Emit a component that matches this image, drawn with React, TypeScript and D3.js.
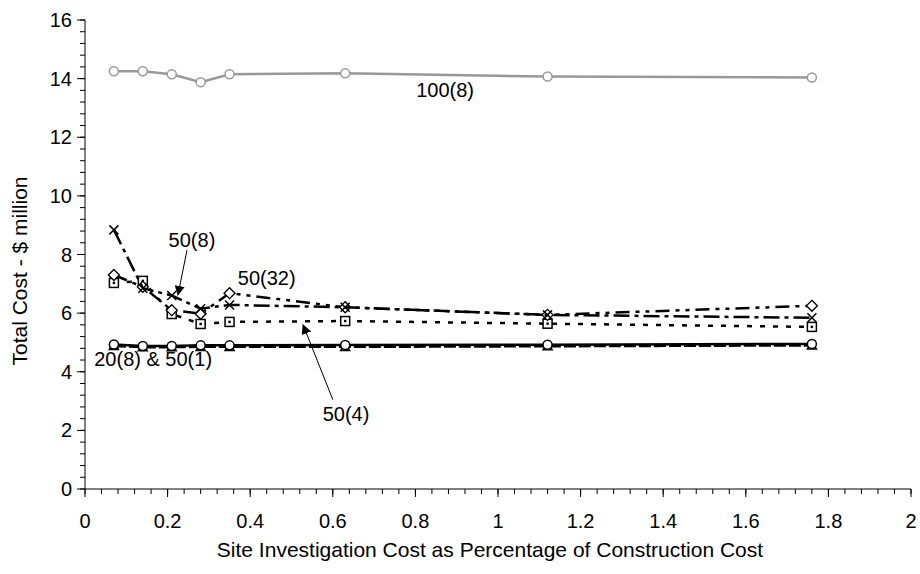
import * as d3 from "d3";
import React from "react";

// x: site investigation cost (% of construction cost)
const xValues = [0.07, 0.14, 0.21, 0.28, 0.35, 0.63, 1.12, 1.76];

// total cost ($ million) per case
const cost100_8 = [14.25, 14.25, 14.15, 13.88, 14.15, 14.18, 14.07, 14.04];
const cost50_32 = [7.3, 6.9, 6.1, 5.98, 6.68, 6.2, 5.94, 6.25];
const cost50_8 = [8.84, 6.85, 6.6, 6.15, 6.28, 6.2, 5.94, 5.84];
const cost50_4 = [7.03, 7.1, 5.97, 5.63, 5.7, 5.73, 5.64, 5.53];
const cost20_8 = [4.93, 4.88, 4.88, 4.9, 4.9, 4.91, 4.92, 4.95];
const cost50_1 = [4.88, 4.84, 4.84, 4.85, 4.85, 4.85, 4.87, 4.9];

const xTicks = [0, 0.2, 0.4, 0.6, 0.8, 1, 1.2, 1.4, 1.6, 1.8, 2];
const yTicks = [0, 2, 4, 6, 8, 10, 12, 14, 16];

const FONT = "'Liberation Sans', Arial, Helvetica, sans-serif";

const x = d3.scaleLinear().domain([0, 2]).range([85, 911]);
const y = d3.scaleLinear().domain([0, 16]).range([489, 20]);

const series = [
  { name: "50(1)", values: cost50_1, color: "#000", width: 2.5, dash: "12,3", marker: "triangle" },
  { name: "20(8)", values: cost20_8, color: "#000", width: 2.5, dash: null, marker: "circle" },
  { name: "50(4)", values: cost50_4, color: "#000", width: 2.5, dash: "5,8", marker: "square" },
  { name: "50(32)", values: cost50_32, color: "#000", width: 2.5, dash: "14,6,4,6,4,6", marker: "diamond" },
  { name: "50(8)", values: cost50_8, color: "#000", width: 2.5, dash: "16,5,4,5", marker: "cross" },
  { name: "100(8)", values: cost100_8, color: "#999", width: 2.5, dash: null, marker: "circle" },
];

// annotations in data units
const labels = [
  { text: "100(8)", x: 0.872, y: 13.6 },
  { text: "50(8)", x: 0.259, y: 8.5 },
  { text: "50(32)", x: 0.44, y: 7.2 },
  { text: "50(4)", x: 0.632, y: 2.55 },
  { text: "20(8) & 50(1)", x: 0.165, y: 4.42 },
];
const arrows = [
  { from: [0.247, 8.15], to: [0.225, 6.62] },
  { from: [0.6, 3.05], to: [0.528, 5.6] },
];

const line = d3
  .line<number>()
  .x((_, i) => x(xValues[i]))
  .y((d) => y(d));

const Marker = ({ type, cx, cy, color }) => {
  const s = 4.5;
  if (type === "circle") {
    return <circle cx={cx} cy={cy} r={s} fill="#fff" stroke={color} strokeWidth={1.5} />;
  }
  if (type === "triangle") {
    return (
      <path
        d={`M${cx},${cy - s} L${cx + s},${cy + s * 0.8} L${cx - s},${cy + s * 0.8} Z`}
        fill="#fff"
        stroke={color}
        strokeWidth={1.5}
      />
    );
  }
  if (type === "square") {
    return (
      <g>
        <rect x={cx - s} y={cy - s} width={s * 2} height={s * 2} fill="#fff" stroke={color} strokeWidth={1.5} />
        <rect x={cx - 1.2} y={cy - 1.2} width={2.4} height={2.4} fill={color} />
      </g>
    );
  }
  if (type === "diamond") {
    return (
      <path
        d={`M${cx},${cy - s - 1} L${cx + s + 1},${cy} L${cx},${cy + s + 1} L${cx - s - 1},${cy} Z`}
        fill="#fff"
        stroke={color}
        strokeWidth={1.3}
      />
    );
  }
  // cross
  return (
    <path
      d={`M${cx - s},${cy - s} L${cx + s},${cy + s} M${cx + s},${cy - s} L${cx - s},${cy + s}`}
      stroke={color}
      strokeWidth={1.5}
    />
  );
};

export default function App() {
  const xMinor = d3.range(0, 2.0001, 0.04);
  const yMinor = d3.range(0, 16.0001, 0.4);

  return (
    <div style={{ position: "absolute", left: 0, top: 0 }}>
      <svg width={920} height={574} viewBox="0 0 920 574" style={{ display: "block", background: "#fff" }} fontFamily={FONT}>
        <defs>
          <marker id="arrowHead" viewBox="0 0 10 10" refX="9" refY="5" markerWidth="10" markerHeight="10" markerUnits="userSpaceOnUse" orient="auto">
            <path d="M0,0 L10,5 L0,10 Z" fill="#000" />
          </marker>
        </defs>

        {/* y軸 */}
        <line x1={x(0)} y1={y(0)} x2={x(0)} y2={y(16)} stroke="#000" strokeWidth={1} />
        {yMinor.map((v, i) => (
          <line key={"ym" + i} x1={x(0) - 5} y1={y(v)} x2={x(0)} y2={y(v)} stroke="#000" strokeWidth={1} />
        ))}
        {yTicks.map((v) => (
          <g key={"y" + v}>
            <line x1={x(0) - 8} y1={y(v)} x2={x(0)} y2={y(v)} stroke="#000" strokeWidth={1} />
            <text x={x(0) - 13} y={y(v)} dy="0.35em" textAnchor="end" fontSize={20}>
              {v}
            </text>
          </g>
        ))}

        {/* x軸 */}
        <line x1={x(0)} y1={y(0)} x2={x(2)} y2={y(0)} stroke="#000" strokeWidth={1} />
        {xMinor.map((v, i) => (
          <line key={"xm" + i} x1={x(v)} y1={y(0)} x2={x(v)} y2={y(0) + 5} stroke="#000" strokeWidth={1} />
        ))}
        {xTicks.map((v) => (
          <g key={"x" + v}>
            <line x1={x(v)} y1={y(0)} x2={x(v)} y2={y(0) + 8} stroke="#000" strokeWidth={1} />
            <text x={x(v)} y={521} dy="0.35em" textAnchor="middle" fontSize={20}>
              {v}
            </text>
          </g>
        ))}

        <text x={490} y={550} dy="0.35em" textAnchor="middle" fontSize={21}>
          Site Investigation Cost as Percentage of Construction Cost
        </text>
        <text transform="translate(20, 271) rotate(-90)" dy="0.35em" textAnchor="middle" fontSize={21}>
          Total Cost - $ million
        </text>

        {/* 系列 */}
        {series.map((s) => (
          <g key={s.name}>
            <path
              d={line(s.values) || ""}
              fill="none"
              stroke={s.color}
              strokeWidth={s.width}
              strokeDasharray={s.dash || undefined}
            />
            {s.values.map((v, i) => (
              <Marker key={i} type={s.marker} cx={x(xValues[i])} cy={y(v)} color={s.color} />
            ))}
          </g>
        ))}

        {/* 注記 */}
        {arrows.map((a, i) => (
          <line
            key={"a" + i}
            x1={x(a.from[0])}
            y1={y(a.from[1])}
            x2={x(a.to[0])}
            y2={y(a.to[1])}
            stroke="#000"
            strokeWidth={1}
            markerEnd="url(#arrowHead)"
          />
        ))}
        {labels.map((l) => (
          <text key={l.text} x={x(l.x)} y={y(l.y)} dy="0.35em" textAnchor="middle" fontSize={20}>
            {l.text}
          </text>
        ))}
      </svg>
    </div>
  );
}
